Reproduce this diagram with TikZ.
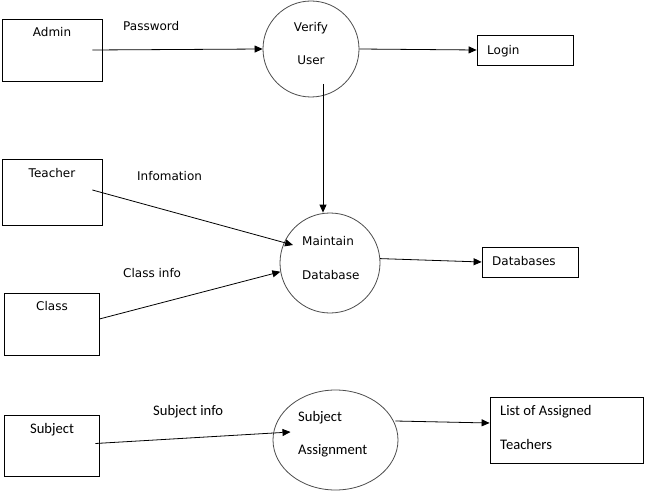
\documentclass[tikz,border=0pt]{standalone}
\usepackage{fontspec}
\setmainfont{DejaVu Sans}
\newfontfamily\calfont{Carlito}
\usetikzlibrary{arrows.meta,shapes.geometric}

\begin{document}
\begin{tikzpicture}[x=1pt,y=-1pt,
  entity/.style={draw,line width=0.8pt,rectangle,inner sep=0pt},
  proc/.style={draw=black!70,line width=0.8pt,circle,inner sep=0pt},
  flow/.style={line width=0.8pt,-{Triangle[length=8pt,width=7pt]}},
  txt/.style={font=\fontsize{12}{14}\selectfont,inner sep=0pt},
  ctxt/.style={font=\calfont\fontsize{14.6}{17}\selectfont,inner sep=0pt}]

\fill[white] (0,0) rectangle (672,492);
\useasboundingbox (0,0) rectangle (672,492);

% external entities and stores
\node[entity,minimum width=100pt,minimum height=62pt] (admin) at (52,50) {};
\node[entity,minimum width=100pt,minimum height=66pt] (teacher) at (52,192) {};
\node[entity,minimum width=95pt,minimum height=62pt] (class) at (51.5,324) {};
\node[entity,minimum width=95pt,minimum height=61pt] (subject) at (51.5,445.5) {};
\node[entity,minimum width=96pt,minimum height=30pt] (login) at (525,50) {};
\node[entity,minimum width=96pt,minimum height=30pt] (databases) at (530,262) {};
\node[entity,minimum width=153pt,minimum height=66pt] (list) at (566.5,430) {};

% processes
\node[proc,minimum size=96pt] (verify) at (311,49) {};
\node[proc,minimum size=100pt] (maintain) at (330,263) {};
\node[proc,ellipse,minimum width=125pt,minimum height=100pt] (assign) at (335.5,440) {};

% texts
\node[txt,anchor=base] (adminT) at (52,37) {Admin};
\node[txt,anchor=base] (teacherT) at (52,177) {Teacher};
\node[txt,anchor=base] (classT) at (52,310) {Class};
\node[ctxt,anchor=base] (subjectT) at (52,433) {Subject};
\node[txt,anchor=base west] (loginT) at (487,55) {Login};
\node[txt,anchor=base west] (databasesT) at (492,265) {Databases};
\node[ctxt,anchor=base west] (listT) at (500,415) {List of Assigned};
\node[ctxt,anchor=base west] (listTb) at (500,449) {Teachers};

\node[txt,anchor=base] (verifyT) at (311,32) {Verify};
\node[txt,anchor=base] (verifyTb) at (311,65) {User};
\node[txt,anchor=base west] (maintainT) at (302,245) {Maintain};
\node[txt,anchor=base west] (maintainTb) at (302,279) {Database};
\node[ctxt,anchor=base west] (assignT) at (298,421) {Subject};
\node[ctxt,anchor=base west] (assignTb) at (298,454) {Assignment};

\node[txt,anchor=base west] (passwordL) at (123,31) {Password};
\node[txt,anchor=base west] (infoL) at (137,180) {Infomation};
\node[txt,anchor=base west] (classL) at (123,277) {Class info};
\node[ctxt,anchor=base west] (subjectL) at (153,415) {Subject info};

% flows
\coordinate (vstart) at ([xshift=12pt,yshift=-35pt]verify.center);
\draw[flow] ([xshift=-10pt]admin.east) -- (verify.west);
\draw[flow] (verify.east) -- (login.west);
\draw[flow] (vstart) -- (vstart |- maintain.north);
\draw[flow] ([xshift=-10pt,yshift=2pt]teacher.east) -- ([xshift=-37pt,yshift=18pt]maintain.center);
\draw[flow] ([yshift=5pt]class.east) -- (maintain.190);
\draw[flow] (maintain.5) -- (databases.west);
\draw[flow] ([xshift=-4pt,yshift=2pt]subject.east) -- ([xshift=-45pt,yshift=8pt]assign.center);
\draw[flow] ([xshift=-3pt,yshift=19pt]assign.east) -- ([yshift=7pt]list.west);
\end{tikzpicture}
\end{document}
